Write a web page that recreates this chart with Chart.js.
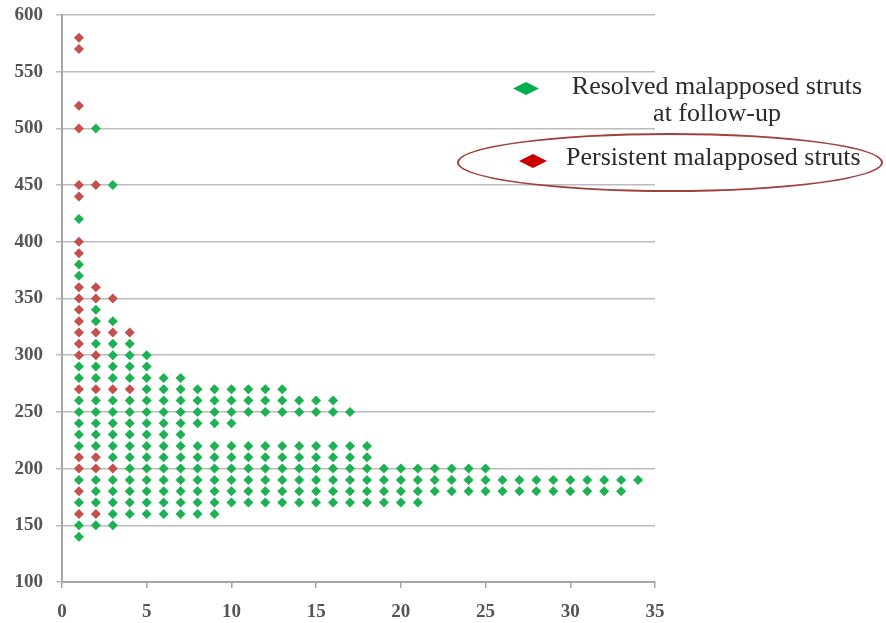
<!DOCTYPE html>
<html>
<head>
<meta charset="utf-8">
<script src="https://cdn.jsdelivr.net/npm/chart.js@4.4.1/dist/chart.umd.min.js"></script>
<style>
  html, body { margin: 0; padding: 0; background: #fff; }
  #wrap { position: relative; width: 886px; height: 623px; overflow: hidden; }
  .lg { position: absolute; font-family: "Liberation Serif", "DejaVu Serif", serif; font-size: 26px; line-height: 27px; color: #2b2b2b; white-space: nowrap; }
  .mk { position: absolute; clip-path: polygon(50% 0, 100% 50%, 50% 100%, 0 50%); }
  #ring { position: absolute; left: 457px; top: 133px; width: 422px; height: 55px; border: 2px solid #a2403e; border-radius: 50%; }
</style>
</head>
<body>
<div id="wrap">
  <canvas id="c" width="886" height="623"></canvas>
  <div id="ring"></div>
  <div class="mk" style="left:513px;top:82px;width:26px;height:13px;background:#00b050"></div>
  <div class="lg" style="left:555px;top:72px;width:324px;text-align:center">Resolved malapposed struts<br>at follow-up</div>
  <div class="mk" style="left:519px;top:154px;width:28px;height:14px;background:#cc0000"></div>
  <div class="lg" style="left:566px;top:143px">Persistent malapposed struts</div>
</div>
<script>
// x positions of the columns (1..34)
const xCols = [1,2,3,4,5,6,7,8,9,10,11,12,13,14,15,16,17,18,19,20,21,22,23,24,25,26,27,28,29,30,31,32,33,34];

// y values of the green (resolved) points, one list per x column
const resolvedY = [
  [420,380,370,290,280,260,250,240,230,220,190,170,150,140],
  [500,340,330,310,290,280,260,250,240,230,220,190,180,170,150],
  [450,330,310,300,290,280,260,250,240,230,220,210,190,180,170,160,150],
  [310,300,290,280,260,250,240,230,220,210,200,190,180,170,160],
  [300,290,280,270,260,250,240,230,220,210,200,190,180,170,160],
  [280,270,260,250,240,230,220,210,200,190,180,170,160],
  [280,270,260,250,240,230,220,210,200,190,180,170,160],
  [270,260,250,240,220,210,200,190,180,170,160],
  [270,260,250,240,220,210,200,190,180,170,160],
  [270,260,250,240,220,210,200,190,180,170],
  [270,260,250,220,210,200,190,180,170],
  [270,260,250,220,210,200,190,180,170],
  [270,260,250,220,210,200,190,180,170],
  [260,250,220,210,200,190,180,170],
  [260,250,220,210,200,190,180,170],
  [260,250,220,210,200,190,180,170],
  [250,220,210,200,190,180,170],
  [220,210,200,190,180,170],
  [200,190,180,170],
  [200,190,180,170],
  [200,190,180,170],
  [200,190,180],
  [200,190,180],
  [200,190,180],
  [200,190,180],
  [190,180],
  [190,180],
  [190,180],
  [190,180],
  [190,180],
  [190,180],
  [190,180],
  [190,180],
  [190]
];

// y values of the red (persistent) points, columns x = 1..4
const persistentY = [
  [580,570,520,500,450,440,400,390,360,350,340,330,320,310,300,270,210,200,180,160],
  [450,360,350,320,300,270,210,200,160],
  [350,320,270,200],
  [320,270]
];

const yTicks = [100,150,200,250,300,350,400,450,500,550,600];
const xTicks = [0,5,10,15,20,25,30,35];

const toPoints = (cols) => cols.flatMap((ys, i) => ys.map(y => ({ x: xCols[i], y })));

const tickFont = { family: "Liberation Serif", size: 19, weight: "bold" };

new Chart(document.getElementById("c"), {
  type: "scatter",
  data: {
    datasets: [
      {
        label: "Resolved malapposed struts at follow-up",
        data: toPoints(resolvedY),
        pointStyle: "rectRot",
        pointRadius: 5,
        pointHoverRadius: 5,
        backgroundColor: "#1cb254",
        borderWidth: 0
      },
      {
        label: "Persistent malapposed struts",
        data: toPoints(persistentY),
        pointStyle: "rectRot",
        pointRadius: 5,
        pointHoverRadius: 5,
        backgroundColor: "#c4504d",
        borderWidth: 0
      }
    ]
  },
  options: {
    responsive: false,
    animation: false,
    layout: { padding: { top: 15, right: 231, left: 0, bottom: 0 } },
    plugins: { legend: { display: false }, tooltip: { enabled: false } },
    scales: {
      x: {
        type: "linear",
        min: 0, max: 35,
        afterBuildTicks: (s) => { s.ticks = xTicks.map(v => ({ value: v })); },
        afterFit: (s) => { s.height = 41; s.paddingLeft = 0; s.paddingRight = 0; },
        grid: { drawOnChartArea: false, drawTicks: true, tickLength: 6, color: "#a6a6a6", lineWidth: 1.5 },
        border: { color: "#a6a6a6", width: 2 },
        ticks: { font: tickFont, color: "#555", padding: 13, maxRotation: 0 }
      },
      y: {
        type: "linear",
        min: 100, max: 600,
        afterBuildTicks: (s) => { s.ticks = yTicks.map(v => ({ value: v })); },
        afterFit: (s) => { s.width = 62; s.paddingTop = 0; s.paddingBottom = 0; },
        grid: { color: "#bcbcbc", lineWidth: 1.5, tickLength: 6 },
        border: { color: "#a6a6a6", width: 2 },
        ticks: { font: tickFont, color: "#555", padding: 13 }
      }
    }
  }
});
</script>
</body>
</html>
